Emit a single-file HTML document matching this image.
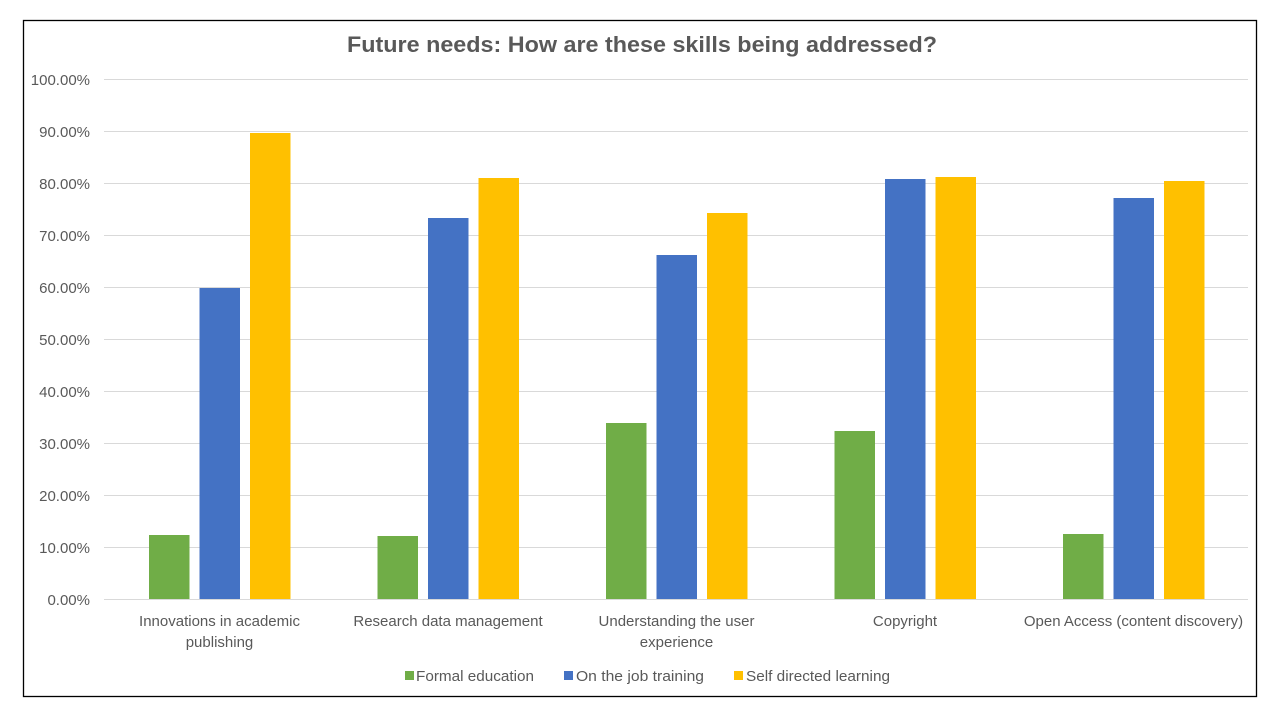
<!DOCTYPE html>
<html><head><meta charset="utf-8"><style>
html,body{margin:0;padding:0;background:#fff;}
svg{display:block;font-family:"Liberation Sans",sans-serif;}
</style></head><body>
<svg width="1280" height="720" viewBox="0 0 1280 720" xmlns="http://www.w3.org/2000/svg">
<rect x="0" y="0" width="1280" height="720" fill="#fff"/>
<rect x="23.5" y="20.5" width="1233" height="676" fill="#fff" stroke="#000" stroke-width="1.3"/>
<text x="642" y="52" text-anchor="middle" font-size="22" font-weight="bold" fill="#595959" textLength="590" lengthAdjust="spacingAndGlyphs">Future needs: How are these skills being addressed?</text>
<g stroke="#d9d9d9" stroke-width="1">
<line x1="104" x2="1248" y1="79.5" y2="79.5"/>
<line x1="104" x2="1248" y1="131.5" y2="131.5"/>
<line x1="104" x2="1248" y1="183.5" y2="183.5"/>
<line x1="104" x2="1248" y1="235.5" y2="235.5"/>
<line x1="104" x2="1248" y1="287.5" y2="287.5"/>
<line x1="104" x2="1248" y1="339.5" y2="339.5"/>
<line x1="104" x2="1248" y1="391.5" y2="391.5"/>
<line x1="104" x2="1248" y1="443.5" y2="443.5"/>
<line x1="104" x2="1248" y1="495.5" y2="495.5"/>
<line x1="104" x2="1248" y1="547.5" y2="547.5"/>
<line x1="104" x2="1248" y1="599.5" y2="599.5"/>
</g>
<g font-size="15" fill="#595959" text-anchor="end">
<text x="90" y="85">100.00%</text>
<text x="90" y="137">90.00%</text>
<text x="90" y="189">80.00%</text>
<text x="90" y="241">70.00%</text>
<text x="90" y="293">60.00%</text>
<text x="90" y="345">50.00%</text>
<text x="90" y="397">40.00%</text>
<text x="90" y="449">30.00%</text>
<text x="90" y="501">20.00%</text>
<text x="90" y="553">10.00%</text>
<text x="90" y="605">0.00%</text>
</g>
<g>
<rect x="149" y="535" width="40.5" height="64" fill="#70AD47"/>
<rect x="199.5" y="288" width="40.5" height="311" fill="#4472C4"/>
<rect x="250" y="133" width="40.5" height="466" fill="#FFC000"/>

<rect x="377.5" y="536" width="40.5" height="63" fill="#70AD47"/>
<rect x="428" y="218" width="40.5" height="381" fill="#4472C4"/>
<rect x="478.5" y="178" width="40.5" height="421" fill="#FFC000"/>

<rect x="606" y="423" width="40.5" height="176" fill="#70AD47"/>
<rect x="656.5" y="255" width="40.5" height="344" fill="#4472C4"/>
<rect x="707" y="213" width="40.5" height="386" fill="#FFC000"/>

<rect x="834.5" y="431" width="40.5" height="168" fill="#70AD47"/>
<rect x="885" y="179" width="40.5" height="420" fill="#4472C4"/>
<rect x="935.5" y="177" width="40.5" height="422" fill="#FFC000"/>

<rect x="1063" y="534" width="40.5" height="65" fill="#70AD47"/>
<rect x="1113.5" y="198" width="40.5" height="401" fill="#4472C4"/>
<rect x="1164" y="181" width="40.5" height="418" fill="#FFC000"/>
</g>
<g font-size="15" fill="#595959" text-anchor="middle">
<text x="219.5" y="626">Innovations in academic</text>
<text x="219.5" y="647">publishing</text>
<text x="448" y="626">Research data management</text>
<text x="676.5" y="626">Understanding the user</text>
<text x="676.5" y="647">experience</text>
<text x="905" y="626">Copyright</text>
<text x="1133.5" y="626">Open Access (content discovery)</text>
</g>
<g font-size="15" fill="#595959">
<rect x="405" y="671" width="9" height="9" fill="#70AD47"/>
<text x="416" y="681" textLength="118" lengthAdjust="spacingAndGlyphs">Formal education</text>
<rect x="564" y="671" width="9" height="9" fill="#4472C4"/>
<text x="576" y="681" textLength="128" lengthAdjust="spacingAndGlyphs">On the job training</text>
<rect x="734" y="671" width="9" height="9" fill="#FFC000"/>
<text x="746" y="681" textLength="144" lengthAdjust="spacingAndGlyphs">Self directed learning</text>
</g>
</svg>
</body></html>
